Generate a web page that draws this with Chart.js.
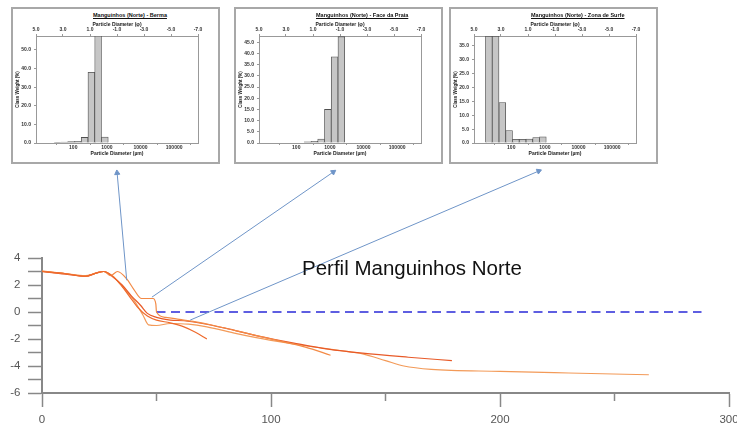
<!DOCTYPE html>
<html>
<head>
<meta charset="utf-8">
<script src="https://cdn.jsdelivr.net/npm/chart.js@4.4.1/dist/chart.umd.min.js"></script>
<style>
  html, body { margin: 0; padding: 0; background: #fff; overflow: hidden; }
  #wrap { position: relative; width: 737px; height: 425px; }
  #main { position: absolute; left: 0; top: 0; }
  .inset { position: absolute; top: 7px; width: 209px; height: 157px; border: 2px solid #a8a8a8; box-sizing: border-box; background: #fff; }
  .inset canvas { position: absolute; left: 0; top: 0; }
  .inset .ttl { position: absolute; left: 80px; top: 3px; font: bold 5.5px Arial, "Liberation Sans", sans-serif; text-decoration: underline; white-space: nowrap; color: #111; }
  #titulo { position: absolute; left: 302px; top: 258px; font: 20.5px Arial, "Liberation Sans", sans-serif; line-height: 1; color: #111; white-space: nowrap; }
</style>
</head>
<body>
<div id="wrap">
  <canvas id="main" width="737" height="425"></canvas>
  <div id="titulo">Perfil Manguinhos Norte</div>
  <div class="inset" style="left:11px"><div class="ttl">Manguinhos (Norte) - Berma</div><canvas id="h1" width="205" height="153"></canvas></div>
  <div class="inset" style="left:234px"><div class="ttl">Manguinhos (Norte) - Face da Praia</div><canvas id="h2" width="205" height="153"></canvas></div>
  <div class="inset" style="left:449px"><div class="ttl">Manguinhos (Norte) - Zona de Surfe</div><canvas id="h3" width="205" height="153"></canvas></div>
</div>
<script>
// perfis de praia: [distancia (m), cota (m)]
const perfil1 = [[0,3.0],[10,2.85],[19,2.65],[24,2.9],[27,3.0],[30,2.75],[34,2.1],[38,1.2],[42,0.3],[46,-0.3],[50,-0.6],[56,-0.8],[62,-1.1],[67,-1.5],[72,-2.0]];
const perfil2 = [[0,3.05],[10,2.85],[19,2.7],[24,2.9],[27,3.0],[30,2.7],[33,3.0],[37,2.45],[40,1.7],[43.5,1.0],[48.5,1.0],[49.7,0.6],[50,0.0],[54,-0.4],[60,-0.55],[66,-0.7],[75,-1.0],[90,-1.6],[105,-2.2],[115,-2.6],[126,-3.2]];
const perfil3 = [[0,3.0],[10,2.8],[19,2.65],[24,2.9],[27,3.0],[31,2.6],[35,2.0],[39,1.2],[43,0.5],[46,-0.1],[50,-0.4],[56,-0.6],[62,-0.65],[70,-0.85],[80,-1.2],[95,-1.8],[110,-2.3],[125,-2.75],[140,-3.05],[160,-3.35],[179,-3.6]];
const perfil4 = [[0,3.0],[10,2.85],[19,2.65],[24,2.9],[27,3.0],[31,2.65],[35,1.9],[40,0.9],[44,-0.2],[46.5,-0.95],[50,-1.0],[56,-0.85],[64,-0.9],[72,-1.1],[85,-1.6],[100,-2.1],[115,-2.5],[130,-2.85],[140,-3.1],[150,-3.6],[158,-4.0],[170,-4.25],[200,-4.4],[230,-4.52],[265,-4.65]];
const nivelMedio = [[50,0],[288,0]];

// setas: da amostra no perfil ate o histograma
const setaInicio = [[37,2.35],[48,1.1],[64.7,-0.6]];
const setaFim = [[32.8,10.3],[127.2,10.37],[216.9,10.44]];
const setaRotacao = [-6, 55, 67];

// histogramas (centro da classe em phi, peso %)
const classesBerma = [3.4, 2.9, 2.4, 1.9, 1.4, 0.9, 0.4, -0.1];
const pesosBerma = [0.3, 0.5, 0.7, 0.9, 3.0, 38.0, 57.5, 3.2];
const classesFace = [1.4, 0.9, 0.4, -0.1, -0.6, -1.1];
const pesosFace = [0.5, 0.8, 1.8, 15.0, 38.5, 47.5];
const classesSurfe = [3.9, 3.4, 2.9, 2.4, 1.9, 1.4, 0.9, 0.4, -0.1];
const pesosSurfe = [38.5, 38.5, 14.6, 4.5, 1.3, 1.3, 1.4, 2.0, 2.2];
const tamanhosMicron = [100, 1000, 10000, 100000];

Chart.defaults.font.family = 'Arial, "Liberation Sans", sans-serif';

const pts = arr => arr.map(p => ({ x: p[0], y: p[1] }));
const coresPerfil = ['#ee6a2c', '#f38a46', '#e85a28', '#f39a58'];
const corSeta = '#6f95c8';

// pontas das setas ficam fora da area do grafico, entao desenha aqui
const pontaSeta = {
  id: 'pontaSeta',
  afterDatasetsDraw(chart) {
    const ctx = chart.ctx;
    setaInicio.forEach((a, i) => {
      const ponta = chart.getDatasetMeta(i).data[1];
      ctx.save();
      ctx.fillStyle = corSeta;
      ctx.strokeStyle = corSeta;
      ctx.lineWidth = 1;
      Chart.helpers.drawPoint(ctx, { pointStyle: 'triangle', radius: 3, rotation: setaRotacao[i], borderWidth: 1 }, ponta.x, ponta.y);
      ctx.restore();
    });
  }
};

const datasets = [];
setaInicio.forEach((a, i) => {
  datasets.push({
    data: pts([a, setaFim[i]]),
    showLine: true,
    clip: false,
    borderColor: corSeta,
    borderWidth: 1,
    pointRadius: 0
  });
});
[perfil1, perfil2, perfil3, perfil4].forEach((p, i) => {
  datasets.push({
    data: pts(p),
    showLine: true,
    borderColor: coresPerfil[i],
    borderWidth: 1.2,
    pointRadius: 0,
    cubicInterpolationMode: 'monotone'
  });
});
datasets.push({
  data: pts(nivelMedio),
  showLine: true,
  borderColor: '#2a2ad8',
  borderWidth: 1.5,
  borderDash: [9, 5.5],
  pointRadius: 0
});

new Chart(document.getElementById('main'), {
  type: 'scatter',
  data: { datasets: datasets },
  plugins: [pontaSeta],
  options: {
    responsive: false,
    animation: false,
    layout: { padding: { top: 258, right: 8, left: 0, bottom: 0 } },
    plugins: { legend: { display: false }, tooltip: { enabled: false } },
    scales: {
      x: {
        type: 'linear', min: 0, max: 300,
        ticks: {
          stepSize: 50, autoSkip: false, maxRotation: 0, padding: 6,
          color: '#555', font: { size: 11.5 },
          callback: v => (v % 100 === 0 ? v : '')
        },
        grid: {
          drawOnChartArea: false, tickLength: 14, tickColor: '#888', tickWidth: 1.5,
          tickBorderDash: ctx => (ctx.tick && ctx.tick.value % 100 !== 0 ? [7, 30] : [])
        },
        border: { color: '#888', width: 2 },
        afterFit: s => { s.height = 32; s.paddingLeft = 0; s.paddingRight = 0; }
      },
      y: {
        min: -6, max: 4,
        ticks: {
          stepSize: 1, autoSkip: false, padding: 7.5,
          color: '#555', font: { size: 11.5 },
          callback: v => (v % 2 === 0 ? v : '')
        },
        grid: { drawOnChartArea: false, tickLength: 14, tickColor: '#888', tickWidth: 1.5 },
        border: { color: '#888', width: 2 },
        afterFit: s => { s.width = 42; s.paddingTop = 0; s.paddingBottom = 0; }
      }
    }
  }
});

function histograma(id, classes, pesos, yMax, yStep) {
  const fonte = { size: 5, weight: 'bold' };
  new Chart(document.getElementById(id), {
    type: 'bar',
    data: {
      datasets: [{
        data: classes.map((c, i) => ({ x: c, y: pesos[i] })),
        backgroundColor: '#c6c6c6',
        borderColor: '#505050',
        borderWidth: 0.8,
        categoryPercentage: 1,
        barPercentage: 1
      }]
    },
    options: {
      responsive: false,
      animation: false,
      layout: { padding: { left: 0, right: 20, top: 0, bottom: 0 } },
      plugins: { legend: { display: false }, tooltip: { enabled: false } },
      scales: {
        x: {
          type: 'linear', position: 'top', min: -7, max: 5, reverse: true, offset: false,
          ticks: { stepSize: 2, autoSkip: false, maxRotation: 0, padding: 1, color: '#333', font: fonte, callback: v => v.toFixed(1) },
          grid: { drawOnChartArea: false, offset: false, tickLength: 2, color: '#999' },
          border: { color: '#999' },
          title: { display: true, text: 'Particle Diameter (φ)', color: '#222', font: fonte, padding: { top: 13, bottom: 0 } },
          afterFit: s => { s.height = 27; s.paddingLeft = 0; s.paddingRight = 0; }
        },
        xb: {
          type: 'linear', position: 'bottom', min: -7, max: 5, reverse: true,
          afterBuildTicks: s => { s.ticks = tamanhosMicron.map(d => ({ value: -Math.log2(d / 1000) })); },
          ticks: { autoSkip: false, maxRotation: 0, padding: 0, color: '#333', font: fonte, callback: (v, i) => tamanhosMicron[i] },
          grid: { drawOnChartArea: false, tickLength: 2, color: '#999' },
          border: { color: '#999' },
          title: { display: true, text: 'Particle Diameter (µm)', color: '#222', font: fonte, padding: { top: 0, bottom: 5 } },
          afterFit: s => { s.height = 19; s.paddingLeft = 0; s.paddingRight = 0; }
        },
        y: {
          min: 0, max: yMax,
          ticks: { stepSize: yStep, includeBounds: false, autoSkip: false, padding: 3, color: '#333', font: fonte, callback: v => v.toFixed(1) },
          grid: { drawOnChartArea: false, tickLength: 2, color: '#999' },
          border: { color: '#999' },
          title: { display: true, text: 'Class Weight (%)', color: '#222', font: { size: 4.5, weight: 'bold' }, padding: { top: 2, bottom: 0 } },
          afterFit: s => { s.width = 23; s.paddingTop = 0; s.paddingBottom = 0; }
        },
        yr: {
          position: 'right',
          ticks: { display: false },
          grid: { display: false },
          border: { color: '#999' },
          afterFit: s => { s.width = 0; s.paddingTop = 0; s.paddingBottom = 0; }
        }
      }
    }
  });
}

histograma('h1', classesBerma, pesosBerma, 57.5, 10);
histograma('h2', classesFace, pesosFace, 47.8, 5);
histograma('h3', classesSurfe, pesosSurfe, 38.6, 5);
</script>
</body>
</html>
